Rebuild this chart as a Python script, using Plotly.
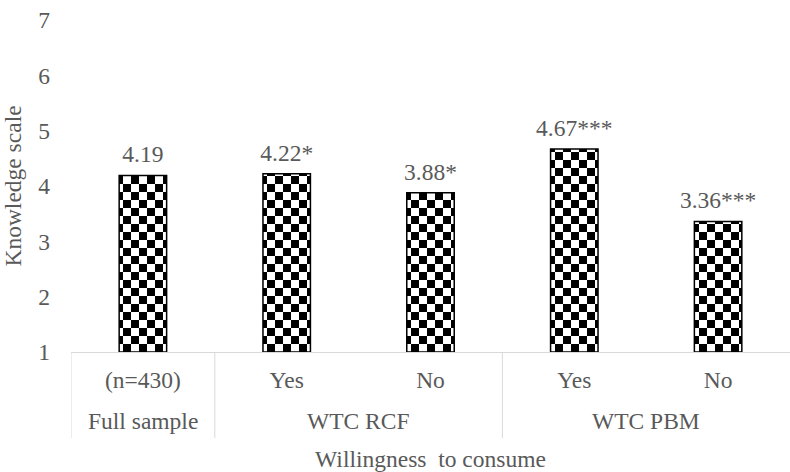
import plotly.graph_objects as go

# ---- data ----
groups = ["Full sample", "WTC RCF", "WTC RCF", "WTC PBM", "WTC PBM"]
subgroups = ["(n=430)", "Yes", "No", "Yes", "No"]
values = [4.19, 4.22, 3.88, 4.67, 3.36]
value_labels = ["4.19", "4.22*", "3.88*", "4.67***", "3.36***"]
y_ticks = [1, 2, 3, 4, 5, 6, 7]

AXIS_MIN = 1
AXIS_MAX = 7
PLOT_H = 332
ROW = 8 / (PLOT_H / (AXIS_MAX - AXIS_MIN))  # checker row height in data units (~8 px)
FONT = "Liberation Serif, Times New Roman, serif"
FS = 23.5
TXT = "#595959"
GRID = "#d9d9d9"
BARW = 0.33

pos = list(range(len(values)))  # category slots on the x axis

# Build checkerboard rows (alternating inverted stripe patterns) from the values
rows = {0: dict(x=[], y=[], base=[]), 1: dict(x=[], y=[], base=[])}
for p, v in zip(pos, values):
    k = 0
    b = AXIS_MIN
    while b < v - 1e-9:
        r = rows[k % 2]
        r["x"].append(p)
        r["y"].append(min(ROW, v - b))
        r["base"].append(b)
        k += 1
        b = AXIS_MIN + k * ROW

fig = go.Figure()
for parity, (fg, bg) in {0: ("black", "white"), 1: ("white", "black")}.items():
    r = rows[parity]
    fig.add_trace(go.Bar(
        x=r["x"], y=r["y"], base=r["base"], width=BARW,
        marker=dict(color=bg, line=dict(width=0),
                    pattern=dict(shape="|", size=16, solidity=0.5,
                                 fgcolor=fg, bgcolor=bg, fillmode="replace")),
        hoverinfo="skip", showlegend=False,
    ))

# outline of each bar
fig.add_trace(go.Bar(
    x=pos, y=[v - AXIS_MIN for v in values], base=AXIS_MIN, width=BARW,
    marker=dict(color="rgba(0,0,0,0)", line=dict(color="black", width=1.5)),
    showlegend=False,
))

# value labels
fig.add_trace(go.Scatter(
    x=pos, y=values, mode="markers+text", text=value_labels,
    textposition="top center",
    marker=dict(size=10, opacity=0),
    textfont=dict(family=FONT, size=FS, color=TXT),
    showlegend=False, cliponaxis=False,
))

# group labels (second row) and dividers
group_names = []
for g in groups:
    if g not in group_names:
        group_names.append(g)
for g in group_names:
    idx = [p for p, gg in zip(pos, groups) if gg == g]
    fig.add_annotation(
        x=sum(idx) / len(idx), xref="x", y=0, yref="paper",
        yanchor="middle", yshift=-69, text=g, showarrow=False,
        font=dict(family=FONT, size=FS, color=TXT),
    )
    fig.add_shape(
        type="line", xref="x", x0=min(idx) - 0.5, x1=min(idx) - 0.5,
        yref="paper", ysizemode="pixel", yanchor=0, y0=0, y1=-86,
        line=dict(color=GRID, width=1),
    )

fig.update_layout(
    width=790, height=472,
    margin=dict(l=71, r=0, t=20, b=472 - 20 - PLOT_H),
    barmode="overlay",
    plot_bgcolor="white", paper_bgcolor="white",
    font=dict(family=FONT, size=FS, color=TXT),
    showlegend=False,
)
fig.update_xaxes(
    range=[-0.5, len(values) - 0.5],
    tickvals=pos, ticktext=subgroups,
    showline=True, linecolor=GRID, linewidth=1,
    ticks="", showgrid=False, zeroline=False,
    ticklabelstandoff=7,
    tickfont=dict(family=FONT, size=FS, color=TXT),
    title=dict(text="Willingness  to consume", font=dict(family=FONT, size=FS, color=TXT), standoff=59),
)
fig.update_yaxes(
    range=[AXIS_MIN, AXIS_MAX], tickvals=y_ticks,
    showline=False, showgrid=False, zeroline=False, ticks="",
    ticklabelstandoff=20,
    tickfont=dict(family=FONT, size=FS, color=TXT),
    title=dict(text="Knowledge scale", font=dict(family=FONT, size=FS, color=TXT)),
)

fig.write_html("out.html", config={"displayModeBar": False},
               post_script="document.body.style.margin='0';")
